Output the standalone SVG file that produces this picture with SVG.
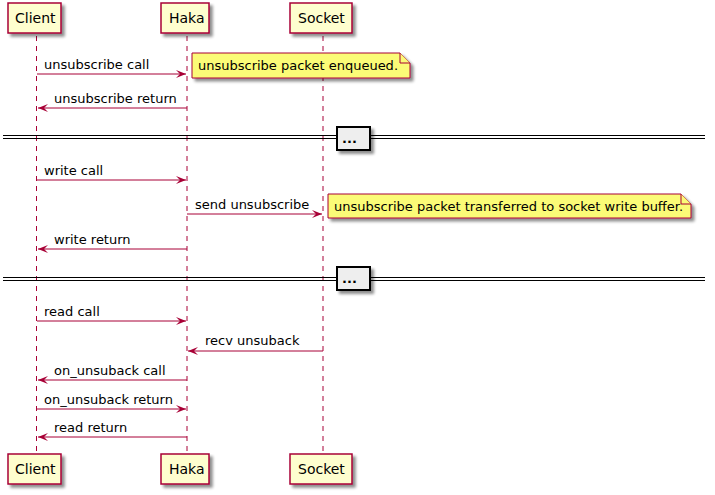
<svg xmlns="http://www.w3.org/2000/svg" width="715" height="495" viewBox="0 0 715 495">
<defs>
<filter id="sh" x="-10%" y="-10%" width="130%" height="140%">
<feGaussianBlur in="SourceAlpha" stdDeviation="1.5"/>
<feOffset dx="3" dy="3" result="b"/>
<feComponentTransfer><feFuncA type="linear" slope="0.45"/></feComponentTransfer>
<feMerge><feMergeNode/><feMergeNode in="SourceGraphic"/></feMerge>
</filter>
<marker id="ah" markerWidth="10" markerHeight="8" refX="10" refY="4" orient="auto" markerUnits="userSpaceOnUse">
<polygon points="0,0 10,4 0,8 4,4" fill="#A80036"/>
</marker>
</defs>
<style>
text{font-family:"DejaVu Sans",sans-serif;fill:#000}
.p rect{fill:#FEFECE;stroke:#A80036;stroke-width:1.5;filter:url(#sh)}
.p text{font-size:14px}
.life{stroke:#A80036;stroke-width:1;stroke-dasharray:5,5}
.m line{stroke:#A80036;stroke-width:1;marker-end:url(#ah)}
.m text,.n text{font-size:13px}
.n path{fill:#FBFB77;stroke:#A80036;stroke-width:1}
.n .b{filter:url(#sh)}
.d line{stroke:#000;stroke-width:1}
.d rect{fill:#EEEEEE;stroke:#000;stroke-width:2;filter:url(#sh)}
.d text{font-size:13px;font-weight:bold}
</style>
<g id="lifelines">
<line class="life" x1="36.5" y1="36" x2="36.5" y2="453"/>
<line class="life" x1="187" y1="36" x2="187" y2="453"/>
<line class="life" x1="323" y1="36" x2="323" y2="453"/>
</g>
<g id="client" class="p">
<rect x="8" y="3" width="53" height="30"/>
<text x="15" y="23">Client</text>
<rect x="8" y="454" width="53" height="30"/>
<text x="15" y="474">Client</text>
</g>
<g id="haka" class="p">
<rect x="161" y="3" width="48" height="30"/>
<text x="169" y="23">Haka</text>
<rect x="161" y="454" width="48" height="30"/>
<text x="169" y="474">Haka</text>
</g>
<g id="socket" class="p">
<rect x="290" y="3" width="62" height="30"/>
<text x="298" y="23">Socket</text>
<rect x="290" y="454" width="62" height="30"/>
<text x="298" y="474">Socket</text>
</g>
<g id="connectors" class="m">
<line x1="37" y1="74" x2="186" y2="74"/>
<text x="44" y="69">unsubscribe call</text>
<line x1="187" y1="108" x2="38" y2="108"/>
<text x="54" y="103">unsubscribe return</text>
<line x1="37" y1="180" x2="186" y2="180"/>
<text x="44" y="175">write call</text>
<line x1="187" y1="214" x2="322" y2="214"/>
<text x="195" y="209">send unsubscribe</text>
<line x1="187" y1="249" x2="38" y2="249"/>
<text x="54" y="244">write return</text>
<line x1="37" y1="321" x2="186" y2="321"/>
<text x="44" y="316">read call</text>
<line x1="323" y1="351" x2="188" y2="351"/>
<text x="205" y="345">recv unsuback</text>
<line x1="187" y1="380" x2="38" y2="380"/>
<text x="54" y="375">on_unsuback call</text>
<line x1="37" y1="409" x2="186" y2="409"/>
<text x="44" y="404">on_unsuback return</text>
<line x1="187" y1="437" x2="38" y2="437"/>
<text x="54" y="432">read return</text>
</g>
<g id="note1" class="n">
<path class="b" d="M192,53 L400,53 L410,63 L410,78 L192,78 Z"/>
<path d="M400,53 L400,63 L410,63"/>
<text x="198" y="70">unsubscribe packet enqueued.</text>
</g>
<g id="note2" class="n">
<path class="b" d="M328,194 L681,194 L691,204 L691,218 L328,218 Z"/>
<path d="M681,194 L681,204 L691,204"/>
<text x="334" y="211">unsubscribe packet transferred to socket write buffer.</text>
</g>
<g id="divider1" class="d">
<line x1="3" y1="135.5" x2="705" y2="135.5"/>
<line x1="3" y1="138.5" x2="705" y2="138.5"/>
<rect x="337" y="127" width="33" height="23"/>
<text x="342" y="143">...</text>
</g>
<g id="divider2" class="d">
<line x1="3" y1="277.5" x2="705" y2="277.5"/>
<line x1="3" y1="280.5" x2="705" y2="280.5"/>
<rect x="337" y="267" width="33" height="23"/>
<text x="342" y="283">...</text>
</g>
</svg>
